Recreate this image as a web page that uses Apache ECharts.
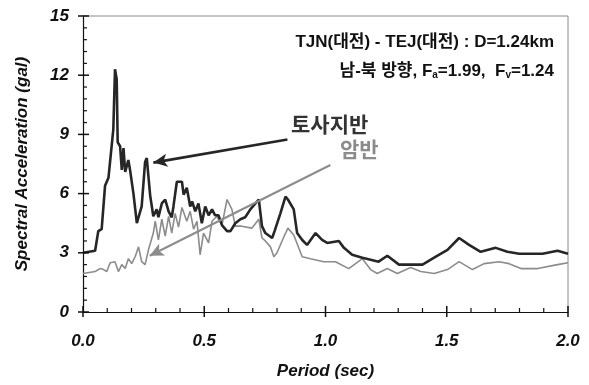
<!DOCTYPE html>
<html>
<head>
<meta charset="utf-8">
<script src="https://cdn.jsdelivr.net/npm/echarts@6/dist/echarts.min.js"></script>
<style>
  html, body { margin: 0; padding: 0; background: #fff; }
  #chart { width: 589px; height: 385px; }
</style>
</head>
<body>
<div id="chart"></div>
<script>
// 토사지반 (soil site) response spectrum
const periodSoil = [0, 0.05, 0.063, 0.077, 0.091, 0.105, 0.112, 0.125, 0.132, 0.139, 0.143, 0.153, 0.16, 0.167, 0.174, 0.187, 0.194, 0.208, 0.222, 0.229, 0.242, 0.256, 0.263, 0.277, 0.29, 0.304, 0.311, 0.325, 0.339, 0.353, 0.366, 0.373, 0.387, 0.408, 0.415, 0.428, 0.442, 0.45, 0.463, 0.476, 0.49, 0.504, 0.518, 0.532, 0.545, 0.559, 0.573, 0.594, 0.608, 0.628, 0.649, 0.669, 0.69, 0.725, 0.738, 0.752, 0.78, 0.79, 0.814, 0.835, 0.845, 0.869, 0.883, 0.904, 0.924, 0.959, 0.986, 1.007, 1.055, 1.076, 1.11, 1.152, 1.186, 1.219, 1.255, 1.303, 1.4, 1.448, 1.503, 1.551, 1.592, 1.64, 1.702, 1.75, 1.799, 1.895, 1.957, 2.0]
const accelSoil = [3.0, 3.1, 4.1, 4.2, 6.4, 6.8, 6.9, 9.25, 12.3, 11.8, 8.6, 8.4, 7.2, 8.3, 7.1, 7.7, 7.2, 6.0, 4.5, 4.5, 5.35, 7.6, 7.8, 5.9, 4.85, 5.2, 4.8, 5.5, 5.7, 5.1, 4.8, 5.35, 6.6, 6.6, 5.95, 6.3, 5.35, 5.6, 5.1, 5.5, 4.5, 5.35, 4.9, 5.2, 4.9, 4.9, 4.4, 4.1, 4.1, 4.5, 4.7, 4.8, 5.2, 5.7, 4.35, 4.0, 3.75, 4.1, 5.0, 5.85, 5.7, 5.2, 4.0, 3.65, 3.4, 4.0, 3.65, 3.5, 3.6, 3.25, 2.9, 2.75, 2.65, 2.55, 2.85, 2.4, 2.4, 2.75, 3.15, 3.75, 3.4, 3.05, 3.25, 3.05, 2.95, 2.95, 3.1, 2.95]

// 암반 (rock site) response spectrum
const periodRock = [0, 0.05, 0.07, 0.085, 0.098, 0.112, 0.132, 0.146, 0.16, 0.174, 0.187, 0.201, 0.215, 0.229, 0.242, 0.256, 0.27, 0.29, 0.298, 0.311, 0.325, 0.339, 0.353, 0.366, 0.38, 0.394, 0.408, 0.428, 0.442, 0.456, 0.47, 0.483, 0.497, 0.518, 0.532, 0.552, 0.573, 0.594, 0.614, 0.628, 0.655, 0.696, 0.725, 0.738, 0.752, 0.773, 0.787, 0.8, 0.828, 0.845, 0.869, 0.904, 0.938, 0.993, 1.041, 1.096, 1.152, 1.186, 1.213, 1.255, 1.296, 1.351, 1.393, 1.448, 1.503, 1.551, 1.606, 1.654, 1.716, 1.757, 1.806, 1.875, 1.957, 2.0]
const accelRock = [1.95, 2.05, 2.2, 2.15, 2.05, 2.5, 2.55, 2.05, 2.4, 2.2, 2.7, 2.45, 2.8, 3.3, 2.55, 2.4, 3.15, 4.0, 4.6, 3.65, 4.7, 3.85, 4.85, 4.0, 5.0, 4.3, 5.3, 4.6, 5.1, 4.2, 4.6, 2.9, 4.0, 3.5, 4.6, 4.85, 4.4, 5.7, 5.2, 4.35, 4.35, 4.25, 4.7, 3.75, 3.6, 3.3, 2.8, 3.0, 3.8, 4.25, 3.9, 2.8, 2.7, 2.55, 2.55, 2.2, 2.7, 2.15, 1.95, 2.2, 1.95, 2.25, 2.05, 1.95, 2.15, 2.55, 2.15, 2.45, 2.55, 2.45, 2.2, 2.2, 2.4, 2.5]

// arrows: [from, to] in [period, gal]
const arrowSoil = [[0.843, 8.74], [0.29, 7.57]]
const arrowRock = [[1.02, 7.45], [0.275, 2.85]]

// tick positions
const xTicks = ['0.0', '0.5', '1.0', '1.5', '2.0']
const xMajorTicks = [0, 0.5, 1.0, 1.5, 2.0]
const xMinorTicks = [0.1, 0.2, 0.3, 0.4, 0.6, 0.7, 0.8, 0.9, 1.1, 1.2, 1.3, 1.4, 1.6, 1.7, 1.8, 1.9]
const yMajorTicks = [0, 3, 6, 9, 12, 15]
const yMinorTicks = [0.6, 1.2, 1.8, 2.4, 3.6, 4.2, 4.8, 5.4, 6.6, 7.2, 7.8, 8.4, 9.6, 10.2, 10.8, 11.4, 12.6, 13.2, 13.8, 14.4]

const font = 'Arial, "Liberation Sans", sans-serif'
const krFont = '"Liberation Sans", "Noto Sans CJK KR", sans-serif'

let myChart = echarts.init(document.getElementById('chart'))

const zip = (xs, ys) => xs.map((x, i) => [x, ys[i]])

const labelStyle = {
  fontFamily: font,
  fontSize: 17,
  fontWeight: 'bold',
  fontStyle: 'italic',
  color: '#111'
}

// tick items: [period, gal, kind]  kind: 0 x-major, 1 x-minor, 2 y-major, 3 y-minor
const tickData = [].concat(
  xMajorTicks.map(v => [v, 0, 0]),
  xMinorTicks.map(v => [v, 0, 1]),
  yMajorTicks.map(v => [0, v, 2]),
  yMinorTicks.map(v => [0, v, 3])
)

function renderTick(params, api) {
  let p = api.coord([api.value(0), api.value(1)])
  let kind = api.value(2)
  let r
  if (kind === 0) r = { x: p[0] - 0.75, y: p[1] - 6, width: 1.5, height: 11 }
  else if (kind === 1) r = { x: p[0] - 0.6, y: p[1] - 4, width: 1.2, height: 4 }
  else if (kind === 2) r = { x: p[0] - 5, y: p[1] - 0.75, width: 11, height: 1.5 }
  else r = { x: p[0], y: p[1] - 0.6, width: 4, height: 1.2 }
  return { type: 'rect', shape: r, style: { fill: '#111' } }
}

function renderFrame(params, api) {
  let a = api.coord([0, 15])
  let b = api.coord([2, 15])
  let c = api.coord([2, 0])
  return {
    type: 'polyline',
    shape: { points: [a, b, c] },
    style: { stroke: '#8a8a8a', lineWidth: 1, fill: 'none' }
  }
}

let options = {
  animation: false,
  grid: { left: 83, right: 21, top: 16, bottom: 73 },
  xAxis: {
    type: 'value',
    min: 0, max: 2, interval: 0.5,
    name: 'Period (sec)',
    nameLocation: 'middle',
    nameGap: 51,
    nameTextStyle: labelStyle,
    axisLine: { show: true, onZero: false, lineStyle: { color: '#111', width: 1.2 } },
    axisTick: { show: false },
    axisLabel: Object.assign({ show: true, margin: 21, formatter: v => xTicks[Math.round(v * 2)] }, labelStyle),
    splitLine: { show: false }
  },
  yAxis: {
    type: 'value',
    min: 0, max: 15, interval: 3,
    name: 'Spectral Acceleration (gal)',
    nameLocation: 'middle',
    nameGap: 52,
    nameTextStyle: labelStyle,
    axisLine: { show: true, onZero: false, lineStyle: { color: '#111', width: 1.2 } },
    axisTick: { show: false },
    axisLabel: Object.assign({ show: true, margin: 14 }, labelStyle),
    splitLine: { show: false }
  },
  series: [
    {
      type: 'custom',
      name: 'frame',
      silent: true,
      clip: false,
      z: 1,
      renderItem: renderFrame,
      data: [[2, 15]]
    },
    {
      type: 'custom',
      name: 'ticks',
      silent: true,
      clip: false,
      z: 10,
      encode: { x: 0, y: 1 },
      renderItem: renderTick,
      data: tickData
    },
    {
      name: '암반',
      type: 'line',
      data: zip(periodRock, accelRock),
      showSymbol: false,
      lineStyle: { color: '#8c8c8c', width: 1.6 },
      z: 2,
      markLine: {
        silent: true,
        symbol: ['none', 'arrow'],
        symbolSize: [10, 14],
        label: { show: false },
        lineStyle: { color: '#8c8c8c', width: 2, type: 'solid' },
        data: [[{ coord: arrowRock[0] }, { coord: arrowRock[1] }]]
      }
    },
    {
      name: '토사지반',
      type: 'line',
      data: zip(periodSoil, accelSoil),
      showSymbol: false,
      lineStyle: { color: '#262626', width: 2.6 },
      z: 3,
      markLine: {
        silent: true,
        symbol: ['none', 'arrow'],
        symbolSize: [10, 14],
        label: { show: false },
        lineStyle: { color: '#262626', width: 2.6, type: 'solid' },
        data: [[{ coord: arrowSoil[0] }, { coord: arrowSoil[1] }]]
      }
    }
  ],
  graphic: [
    {
      type: 'text', right: 35, top: 34,
      style: {
        text: 'TJN(대전) - TEJ(대전) : D=1.24km',
        fontFamily: krFont, fontSize: 17, fontWeight: 'bold', fill: '#111'
      }
    },
    {
      type: 'text', right: 35, top: 63,
      style: {
        text: '남-북 방향, F{s|a}=1.99,  F{s|v}=1.24',
        fontFamily: krFont, fontSize: 17, fontWeight: 'bold', fill: '#111',
        rich: {
          s: { fontFamily: krFont, fontSize: 10, fontWeight: 'bold', fill: '#111', padding: [8, 0, 0, 0] }
        }
      }
    },
    {
      type: 'text', left: 291, top: 114,
      style: {
        text: '토사지반',
        fontFamily: '"Noto Sans CJK KR", sans-serif', fontSize: 21, fontWeight: 'bold', fill: '#333'
      }
    },
    {
      type: 'text', left: 340, top: 139,
      style: {
        text: '암반',
        fontFamily: '"Noto Sans CJK KR", sans-serif', fontSize: 21, fontWeight: 'bold', fill: '#8c8c8c'
      }
    }
  ]
}
myChart.setOption(options)
</script>
</body>
</html>
